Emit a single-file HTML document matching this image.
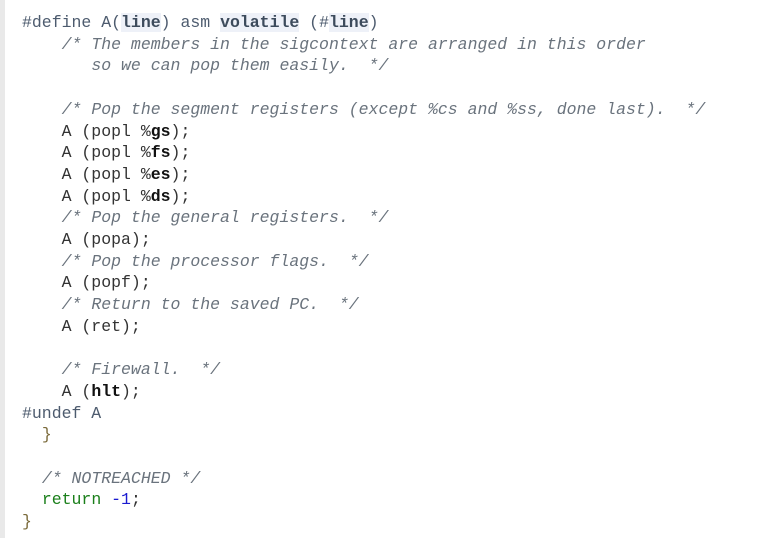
<!DOCTYPE html>
<html><head><meta charset="utf-8"><style>
html,body{margin:0;padding:0;background:#fff;width:762px;height:538px;overflow:hidden}
.bar{position:absolute;left:0;top:0;width:5px;height:538px;background:#e9e9e9}
pre{position:absolute;left:22px;top:12px;margin:0;font-family:"Liberation Mono","DejaVu Sans Mono",monospace;font-size:16.5px;letter-spacing:0px;line-height:21.7px;color:#333}
.pp{color:#4d5b6e}
.c{color:#6a737d;font-style:italic}
.h{background:#eef1f8;font-weight:bold;color:#3d4b5c}
b{color:#111}
.br{color:#7a6a3a}
.g{color:#1a7f1a}
.n{color:#1a1ad0}
</style></head><body><div class="bar"></div>
<pre><span class="pp">#define A(<span class="h">line</span>) asm <span class="h">volatile</span> (#<span class="h">line</span>)</span>
    <span class="c">/* The members in the sigcontext are arranged in this order</span>
       <span class="c">so we can pop them easily.  */</span>

    <span class="c">/* Pop the segment registers (except %cs and %ss, done last).  */</span>
    A (popl %<b>gs</b>);
    A (popl %<b>fs</b>);
    A (popl %<b>es</b>);
    A (popl %<b>ds</b>);
    <span class="c">/* Pop the general registers.  */</span>
    A (popa);
    <span class="c">/* Pop the processor flags.  */</span>
    A (popf);
    <span class="c">/* Return to the saved PC.  */</span>
    A (ret);

    <span class="c">/* Firewall.  */</span>
    A (<b>hlt</b>);
<span class="pp">#undef A</span>
  <span class="br">}</span>

  <span class="c">/* NOTREACHED */</span>
  <span class="g">return</span> <span class="n">-1</span>;
<span class="br">}</span></pre>
</body></html>
